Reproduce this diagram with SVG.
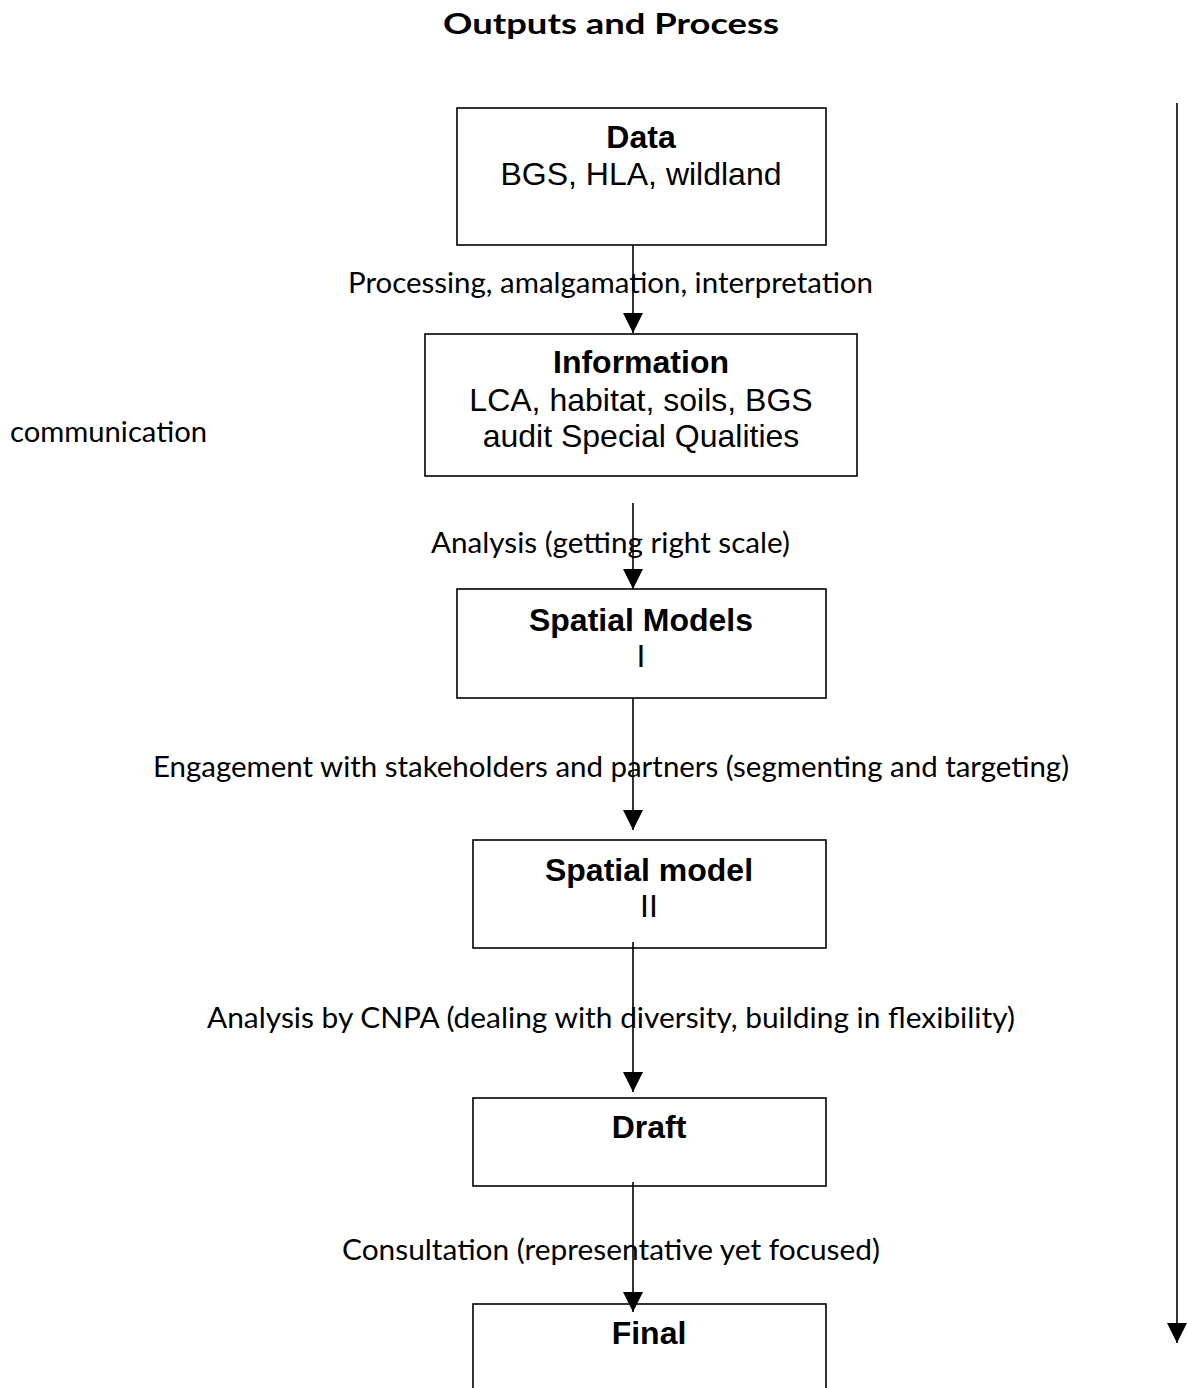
<svg xmlns="http://www.w3.org/2000/svg" width="1187" height="1388" viewBox="0 0 1187 1388">
<defs>
<marker id="ah" markerWidth="20" markerHeight="20" refX="20" refY="10" orient="auto" markerUnits="userSpaceOnUse" viewBox="0 0 20 20">
<path d="M0,0 L20,10 L0,20 Z" fill="#000"/>
</marker>
<style>
.box{fill:#fff;stroke:#000;stroke-width:1.6}
.conn{stroke:#000;stroke-width:1.6;fill:none}
.bt{font-family:"Liberation Sans",Arial,sans-serif;font-size:32px;fill:#000;text-anchor:middle}
.bb{font-weight:bold}
.lbl{font-family:Lato,"Open Sans",sans-serif;font-size:28px;fill:#000}
.title{font-family:Lato,"Open Sans",sans-serif;font-size:29px;font-weight:bold;fill:#000}
</style>
</defs>
<rect width="1187" height="1388" fill="#fff"/>
<text class="title" x="443" y="34" textLength="336" lengthAdjust="spacingAndGlyphs">Outputs and Process</text>

<g id="node-data">
<rect class="box" x="457" y="108" width="369" height="137"/>
<text class="bt bb" x="641" y="148">Data</text>
<text class="bt" x="641" y="185">BGS, HLA, wildland</text>
</g>
<g id="node-information">
<rect class="box" x="425" y="334" width="432" height="142"/>
<text class="bt bb" x="641" y="373">Information</text>
<text class="bt" x="641" y="411">LCA, habitat, soils, BGS</text>
<text class="bt" x="641" y="447">audit Special Qualities</text>
</g>
<g id="node-spatial-models">
<rect class="box" x="457" y="589" width="369" height="109"/>
<text class="bt bb" x="641" y="631">Spatial Models</text>
<text class="bt" x="641" y="667">I</text>
</g>
<g id="node-spatial-model-2">
<rect class="box" x="473" y="840" width="353" height="108"/>
<text class="bt bb" x="649" y="881">Spatial model</text>
<text class="bt" x="649" y="917">II</text>
</g>
<g id="node-draft">
<rect class="box" x="473" y="1098" width="353" height="88"/>
<text class="bt bb" x="649" y="1138">Draft</text>
</g>
<g id="node-final">
<rect class="box" x="473" y="1304" width="353" height="100"/>
<text class="bt bb" x="649" y="1344">Final</text>
</g>

<g id="connectors">
<line class="conn" x1="633" y1="245" x2="633" y2="333" marker-end="url(#ah)"/>
<line class="conn" x1="633" y1="503" x2="633" y2="589" marker-end="url(#ah)"/>
<line class="conn" x1="633" y1="698" x2="633" y2="830" marker-end="url(#ah)"/>
<line class="conn" x1="633" y1="942" x2="633" y2="1092" marker-end="url(#ah)"/>
<line class="conn" x1="633" y1="1182" x2="633" y2="1312" marker-end="url(#ah)"/>
<line class="conn" x1="1177" y1="103" x2="1177" y2="1343" marker-end="url(#ah)"/>
</g>

<g id="labels">
<text class="lbl" x="348" y="293" textLength="525" lengthAdjust="spacingAndGlyphs">Processing, amalgamation, interpretation</text>
<text class="lbl" x="10" y="442" textLength="197" lengthAdjust="spacingAndGlyphs">communication</text>
<text class="lbl" x="431" y="553" textLength="359" lengthAdjust="spacingAndGlyphs">Analysis (getting right scale)</text>
<text class="lbl" x="153" y="777" textLength="916" lengthAdjust="spacingAndGlyphs">Engagement with stakeholders and partners (segmenting and targeting)</text>
<text class="lbl" x="207" y="1028" textLength="808" lengthAdjust="spacingAndGlyphs">Analysis by CNPA (dealing with diversity, building in flexibility)</text>
<text class="lbl" x="342" y="1260" textLength="538" lengthAdjust="spacingAndGlyphs">Consultation (representative yet focused)</text>
</g>
</svg>
